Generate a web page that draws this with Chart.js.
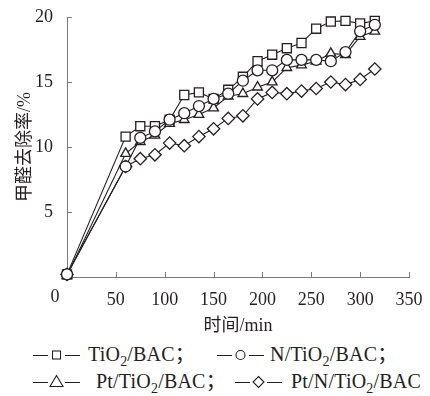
<!DOCTYPE html>
<html>
<head>
<meta charset="utf-8">
<script src="https://cdn.jsdelivr.net/npm/chart.js@4"></script>
<style>
  body { margin: 0; background: #fff; }
  #wrap { position: relative; width: 430px; height: 396px; }
  #box { position: absolute; left: 0; top: 0; width: 430px; height: 340px; }
  .lg { position: absolute; font: 20px 'Liberation Serif', 'Noto Sans CJK SC', serif; color: #231f20; white-space: nowrap; line-height: 22px; letter-spacing: 0.2px; }
  .lg sub { font-size: 14px; vertical-align: -5px; line-height: 0; }
  .sym { position: absolute; line-height: 0; }
</style>
</head>
<body>
<div id="wrap">
  <div id="box"><canvas id="removalChart"></canvas></div>
</div>
<script>
/* ========= FORMALDEHYDE REMOVAL vs TIME ========= */

const timeMin = [0, 60, 75, 90, 105, 120, 135, 150, 165, 180, 195, 210, 225, 240, 255, 270, 285, 300, 315];

const tio2Bac = [0.2, 10.8, 11.6, 11.6, 12.1, 14.0, 14.2, 13.7, 14.4, 15.4, 16.6, 17.1, 17.6, 18.0, 19.1, 19.65, 19.7, 19.5, 19.7];
const nTio2Bac = [0.2, 8.5, 10.7, 11.2, 12.1, 12.6, 13.15, 13.7, 14.1, 15.1, 15.9, 15.9, 16.7, 16.7, 16.7, 16.6, 17.3, 18.9, 19.4];
const ptTio2Bac = [0.1, 9.5, 10.4, 10.9, 11.8, 12.1, 12.5, 13.0, 13.9, 14.1, 14.6, 15.0, 16.1, 16.3, 16.6, 17.2, 17.1, 18.5, 18.9];
const ptNTio2Bac = [0.2, 8.5, 9.1, 9.4, 10.3, 10.1, 10.8, 11.4, 12.2, 12.4, 13.7, 14.2, 14.1, 14.3, 14.5, 15.0, 14.8, 15.2, 16.0];

const seriesNames = ["TiO2/BAC", "N/TiO2/BAC", "Pt/TiO2/BAC", "Pt/N/TiO2/BAC"];
const xTicks = [0, 50, 100, 150, 200, 250, 300, 350];
const yTicks = [0, 5, 10, 15, 20];

const ink = "#231f20";
const axisGrey = "#7a7a7a";
const serif = "'Liberation Serif', 'Noto Sans CJK SC', serif";

function series(label, data, style, radius, order) {
  return {
    label: label,
    data: data.map((v, i) => ({ x: timeMin[i], y: v })),
    borderColor: ink,
    borderWidth: 1.1,
    backgroundColor: "#fff",
    pointStyle: style,
    pointRadius: radius,
    pointBorderWidth: 1.3,
    pointBorderColor: ink,
    pointBackgroundColor: "#fff",
    tension: 0,
    clip: false,
    order: order
  };
}

// short inward tick marks and the shared "0" at the corner
const innerTicks = {
  id: "innerTicks",
  afterDraw(chart) {
    const { ctx, scales: { x, y } } = chart;
    ctx.save();
    ctx.strokeStyle = axisGrey;
    ctx.lineWidth = 1;
    ctx.beginPath();
    xTicks.slice(1).forEach(t => {
      const px = Math.round(x.getPixelForValue(t)) + 0.5;
      ctx.moveTo(px, y.bottom);
      ctx.lineTo(px, y.bottom - 5);
    });
    yTicks.slice(1).forEach(t => {
      const py = Math.round(y.getPixelForValue(t)) + 0.5;
      ctx.moveTo(x.left, py);
      ctx.lineTo(x.left + 5, py);
    });
    ctx.stroke();
    ctx.fillStyle = ink;
    ctx.font = "18px " + serif;
    ctx.textAlign = "center";
    ctx.textBaseline = "middle";
    ctx.fillText("0", x.left - 12, y.bottom + 20);
    ctx.restore();
  }
};

new Chart(document.getElementById("removalChart"), {
  type: "line",
  data: {
    datasets: [
      series(seriesNames[0], tio2Bac, "rect", 6.4, 4),
      series(seriesNames[1], nTio2Bac, "circle", 5.5, 1),
      series(seriesNames[2], ptTio2Bac, "triangle", 5.6, 3),
      series(seriesNames[3], ptNTio2Bac, "rectRot", 6.2, 2)
    ]
  },
  options: {
    responsive: true,
    maintainAspectRatio: false,
    animation: false,
    layout: { padding: { left: 0, right: 21, top: 17, bottom: 0 } },
    plugins: { legend: { display: false }, tooltip: { enabled: false } },
    scales: {
      x: {
        type: "linear",
        min: 0,
        max: 350,
        afterBuildTicks: s => { s.ticks = xTicks.map(v => ({ value: v })); },
        afterFit: s => { s.height = 63; },
        grid: { display: false },
        border: { display: true, color: axisGrey, width: 1 },
        ticks: {
          color: ink,
          font: { family: serif, size: 18 },
          padding: 4,
          maxRotation: 0,
          callback: v => (v === 0 ? "" : v)
        },
        title: {
          display: true,
          text: "时间/min",
          color: ink,
          font: { family: serif, size: 18 },
          padding: { top: 0, bottom: 3 }
        }
      },
      y: {
        min: 0,
        max: 20,
        afterBuildTicks: s => { s.ticks = yTicks.map(v => ({ value: v })); },
        afterFit: s => { s.width = 67; },
        grid: { display: false },
        border: { display: true, color: axisGrey, width: 1 },
        ticks: {
          color: ink,
          font: { family: serif, size: 18 },
          padding: 6,
          callback: v => (v === 0 ? "" : v)
        },
        title: {
          display: true,
          text: "甲醛去除率/%",
          color: ink,
          font: { family: serif, size: 18 },
          padding: { top: 14, bottom: 0 }
        }
      }
    }
  },
  plugins: [innerTicks]
});

/* ========= LEGEND (two rows) ========= */

const legendSlots = [
  { style: "rect", sx: 33, tx: 88, y: 355 },
  { style: "circle", sx: 217, tx: 270, y: 355 },
  { style: "triangle", sx: 33, tx: 96, y: 382 },
  { style: "rectRot", sx: 235, tx: 291, y: 382 }
];

function markerSvg(style) {
  let m = "";
  if (style === "rect") m = '<rect x="19.5" y="5" width="8" height="8"/>';
  if (style === "circle") m = '<circle cx="23.5" cy="9" r="4.5"/>';
  if (style === "triangle") m = '<polygon points="23.5,2.5 30,13.5 17,13.5"/>';
  if (style === "rectRot") m = '<polygon points="23.5,3.5 29,9 23.5,14.5 18,9"/>';
  return '<svg width="47" height="18" viewBox="0 0 47 18">' +
    '<path d="M0 9.5H15M32 9.5H47" stroke="' + ink + '" stroke-width="1.2" fill="none"/>' +
    '<g stroke="' + ink + '" stroke-width="1.1" fill="#fff">' + m + '</g></svg>';
}

const wrap = document.getElementById("wrap");
legendSlots.forEach((slot, i) => {
  const s = document.createElement("div");
  s.className = "sym";
  s.style.left = slot.sx + "px";
  s.style.top = (slot.y - 9) + "px";
  s.innerHTML = markerSvg(slot.style);
  wrap.appendChild(s);

  const t = document.createElement("div");
  t.className = "lg";
  t.style.left = slot.tx + "px";
  t.style.top = (slot.y - 12) + "px";
  t.innerHTML = seriesNames[i].replace("O2", "O<sub>2</sub>") + (i < 3 ? "；" : "");
  wrap.appendChild(t);
});
</script>
</body>
</html>
